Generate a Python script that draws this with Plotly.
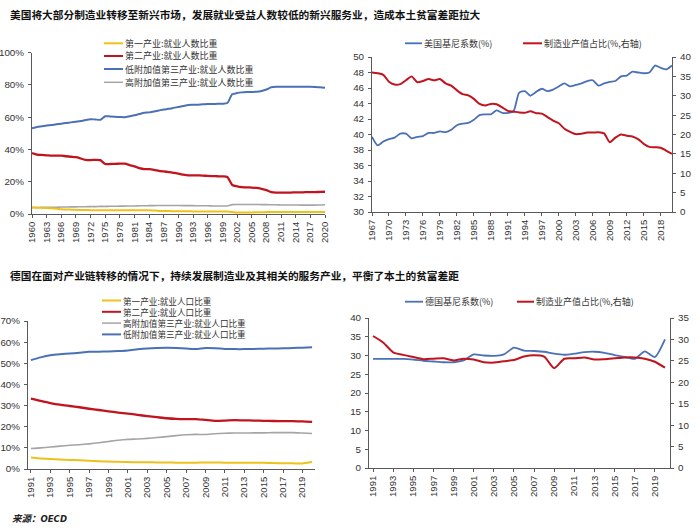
import plotly.graph_objects as go

# ---------------- DATA ----------------
us_emp_years = list(range(1960, 2021))
us_primary = [4.0, 3.9, 3.8, 3.7, 3.5, 3.3, 3.0, 2.8, 2.7, 2.6, 2.5, 2.5, 2.4, 2.4, 2.4, 2.4, 2.4, 2.4, 2.4, 2.4,
              2.4, 2.4, 2.3, 2.3, 2.3, 2.1, 1.9, 1.8, 1.8, 1.7, 1.7, 1.7, 1.7, 1.6, 1.6, 1.6, 1.6, 1.5, 1.5, 1.5,
              1.5, 1.2, 0.9, 0.9, 1.0, 1.0, 1.1, 1.1, 1.2, 1.2, 1.2, 1.2, 1.3, 1.3, 1.3, 1.3, 1.3, 1.3, 1.3, 1.3, 1.3]
us_secondary = [37.8, 36.8, 36.6, 36.4, 36.2, 36.2, 36.2, 35.8, 35.5, 35.2, 34.4, 33.5, 33.4, 33.6, 33.4, 31.0,
                31.0, 31.1, 31.2, 31.2, 30.3, 29.5, 28.4, 27.8, 27.8, 27.4, 26.8, 26.4, 26.0, 25.5, 25.0, 24.4,
                24.0, 24.0, 23.9, 23.8, 23.6, 23.5, 23.4, 23.3, 22.9, 18.0, 17.2, 16.7, 16.5, 16.4, 16.2, 15.6,
                14.8, 13.6, 13.3, 13.3, 13.3, 13.3, 13.4, 13.4, 13.5, 13.5, 13.6, 13.7, 13.8]
us_low_tertiary = [53.2, 54.0, 54.4, 54.8, 55.2, 55.6, 56.0, 56.4, 56.8, 57.2, 57.6, 58.3, 58.8, 58.6, 58.4, 60.6,
                   60.5, 60.3, 60.1, 60.0, 60.6, 61.2, 62.0, 62.8, 63.0, 63.6, 64.2, 64.8, 65.2, 65.8, 66.4, 67.0,
                   67.6, 67.7, 67.8, 68.0, 68.2, 68.2, 68.3, 68.4, 68.8, 74.2, 75.0, 75.4, 75.6, 75.7, 75.8, 76.3,
                   77.2, 78.6, 78.9, 78.9, 78.9, 78.9, 78.9, 78.9, 78.9, 78.9, 78.8, 78.6, 78.2]
us_high_tertiary = [4.0, 4.0, 4.1, 4.1, 4.2, 4.2, 4.3, 4.3, 4.4, 4.4, 4.5, 4.5, 4.6, 4.6, 4.7, 4.7, 4.8, 4.8, 4.9,
                    4.9, 5.0, 5.0, 5.1, 5.1, 5.2, 5.2, 5.3, 5.3, 5.3, 5.3, 5.3, 5.2, 5.2, 5.2, 5.1, 5.1, 5.1, 5.0,
                    5.0, 5.0, 5.0, 5.8, 5.9, 5.9, 5.9, 5.9, 5.9, 5.8, 5.8, 5.7, 5.7, 5.6, 5.6, 5.6, 5.6, 5.5, 5.5,
                    5.5, 5.5, 5.6, 5.7]

us_gini_years = list(range(1967, 2021))
us_gini = [39.7, 38.6, 39.1, 39.4, 39.6, 40.1, 40.1, 39.5, 39.7, 39.8, 40.2, 40.2, 40.4, 40.3, 40.6, 41.2, 41.4,
           41.5, 41.9, 42.5, 42.6, 42.6, 43.1, 42.8, 42.8, 43.0, 45.4, 45.6, 45.0, 45.5, 45.9, 45.6, 45.8, 46.2,
           46.6, 46.2, 46.4, 46.6, 46.9, 47.0, 46.3, 46.6, 46.8, 46.9, 47.5, 47.6, 48.1, 48.0, 47.9, 48.0, 48.9,
           48.6, 48.4, 48.9]
us_mfg_share = [36.0, 35.8, 35.4, 33.6, 32.9, 33.0, 34.0, 35.0, 33.5, 33.8, 34.3, 34.0, 34.3, 33.2, 32.6, 31.4,
                30.4, 30.1, 29.2, 27.9, 27.5, 27.9, 27.8, 27.0, 26.1, 25.9, 25.7, 25.6, 26.0, 25.5, 25.4, 24.5,
                23.6, 22.9, 21.5, 20.7, 20.1, 20.2, 20.5, 20.5, 20.6, 20.3, 18.0, 19.2, 20.0, 19.7, 19.5, 18.8,
                17.6, 16.8, 16.7, 16.6, 15.8, 15.0]

de_years = list(range(1991, 2021))
de_primary = [5.4, 5.0, 4.7, 4.5, 4.3, 4.1, 3.9, 3.7, 3.5, 3.4, 3.3, 3.2, 3.2, 3.1, 3.1, 3.0, 3.0, 3.0, 3.1, 3.1,
              3.0, 3.0, 3.0, 3.0, 2.9, 2.8, 2.7, 2.7, 2.6, 3.3]
de_secondary = [33.3, 32.2, 31.2, 30.4, 29.8, 29.2, 28.5, 27.9, 27.3, 26.7, 26.2, 25.6, 25.0, 24.5, 24.0, 23.7,
                23.6, 23.6, 23.2, 22.8, 22.9, 23.1, 23.0, 22.9, 22.8, 22.7, 22.6, 22.6, 22.5, 22.3]
de_high_tertiary = [9.7, 10.0, 10.4, 10.8, 11.2, 11.5, 11.9, 12.4, 13.0, 13.6, 14.0, 14.2, 14.5, 14.9, 15.3, 15.8,
                    16.2, 16.4, 16.3, 16.7, 16.9, 17.0, 17.0, 17.1, 17.1, 17.2, 17.2, 17.2, 17.0, 16.8]
de_low_tertiary = [51.5, 52.8, 53.8, 54.3, 54.6, 55.0, 55.4, 55.5, 55.6, 55.8, 56.1, 56.6, 57.0, 57.2, 57.3, 57.2,
                   57.0, 56.7, 57.2, 57.1, 56.8, 56.7, 56.7, 56.8, 56.9, 57.0, 57.1, 57.2, 57.4, 57.6]
de_gini = [29.1, 29.1, 29.1, 29.1, 28.9, 28.6, 28.4, 28.2, 28.2, 28.7, 30.3, 30.0, 29.9, 30.3, 32.1, 31.3, 31.2,
           31.0, 30.5, 30.2, 30.5, 30.9, 31.0, 30.7, 30.1, 29.6, 29.1, 31.1, 29.6, 34.3]
de_mfg_share = [30.8, 29.3, 27.0, 26.4, 25.9, 25.4, 25.5, 25.6, 25.1, 25.5, 25.3, 24.7, 24.6, 24.9, 25.2, 26.0,
                26.3, 26.0, 23.3, 25.5, 25.6, 25.8, 25.3, 25.4, 25.6, 25.8, 25.8, 25.5, 24.8, 23.4]

us_emp_names = ["第一产业:就业人数比重", "第二产业:就业人数比重", "低附加值第三产业:就业人数比重", "高附加值第三产业:就业人数比重"]
us_gini_names = ["美国基尼系数(%)", "制造业产值占比(%,右轴)"]
de_emp_names = ["第一产业:就业人口比重", "第二产业:就业人口比重", "高附加值第三产业:就业人口比重", "低附加值第三产业:就业人口比重"]
de_gini_names = ["德国基尼系数(%)", "制造业产值占比(%,右轴)"]

title_us = "美国将大部分制造业转移至新兴市场，发展就业受益人数较低的新兴服务业，造成本土贫富差距拉大"
title_de = "德国在面对产业链转移的情况下，持续发展制造业及其相关的服务产业，平衡了本土的贫富差距"
source_text = "来源：OECD"

us_emp_ticks = list(range(1960, 2021, 3))
us_gini_ticks = list(range(1967, 2019, 3))
de_ticks = list(range(1991, 2020, 2))

# ---------------- STYLE ----------------
W, H = 700, 531
YELLOW = "#EDC21B"
RED = "#C0141E"
BLUE = "#4A70B5"
GREY = "#A5A5A5"
AXIS = "#595959"
TXT = "#333333"
CJK = "Noto Sans CJK SC"
NUM = "Liberation Sans, Arial, sans-serif"


def px(x):
    return x / W


def py(y):
    return 1 - y / H


fig = go.Figure()


def add_line(x, y, color, width, xa, ya, name):
    fig.add_trace(go.Scatter(x=x, y=y, mode="lines", name=name, xaxis=xa, yaxis=ya,
                             line=dict(color=color, width=width, shape="spline", smoothing=0.6),
                             showlegend=False, hoverinfo="x+y+name"))


# Top-left
add_line(us_emp_years, us_high_tertiary, GREY, 1.6, "x", "y", us_emp_names[3])
add_line(us_emp_years, us_primary, YELLOW, 2.0, "x", "y", us_emp_names[0])
add_line(us_emp_years, us_secondary, RED, 2.3, "x", "y", us_emp_names[1])
add_line(us_emp_years, us_low_tertiary, BLUE, 2.0, "x", "y", us_emp_names[2])
# Top-right
add_line(us_gini_years, us_gini, BLUE, 1.8, "x2", "y2", us_gini_names[0])
add_line(us_gini_years, us_mfg_share, RED, 2.0, "x2", "y3", us_gini_names[1])
# Bottom-left
add_line(de_years, de_high_tertiary, GREY, 1.6, "x3", "y4", de_emp_names[2])
add_line(de_years, de_primary, YELLOW, 2.0, "x3", "y4", de_emp_names[0])
add_line(de_years, de_secondary, RED, 2.3, "x3", "y4", de_emp_names[1])
add_line(de_years, de_low_tertiary, BLUE, 2.0, "x3", "y4", de_emp_names[3])
# Bottom-right
add_line(de_years, de_gini, BLUE, 1.8, "x4", "y5", de_gini_names[0])
add_line(de_years, de_mfg_share, RED, 2.0, "x4", "y6", de_gini_names[1])

tickfont_y = dict(family=NUM, size=9.8, color=TXT)
tickfont_x = dict(family=NUM, size=9.5, color=TXT)


def xax(domain, rng, ticks, anchor):
    return dict(domain=domain, range=rng, anchor=anchor, tickmode="array", tickvals=ticks,
                ticktext=[str(t) for t in ticks], tickangle=-90, tickfont=tickfont_x,
                showline=True, linecolor=AXIS, linewidth=1, ticks="outside", ticklen=3,
                tickcolor=AXIS, showgrid=False, zeroline=False, fixedrange=True, automargin=False)


def yax(domain, rng, dtick, anchor, suffix="", side="left", overlaying=None):
    d = dict(domain=domain, range=rng, anchor=anchor, dtick=dtick, tick0=0, ticksuffix=suffix,
             tickfont=tickfont_y, showline=True, linecolor=AXIS, linewidth=1, ticks="outside",
             ticklen=3, tickcolor=AXIS, showgrid=False, zeroline=False, side=side, fixedrange=True,
             ticklabelstandoff=2, automargin=False)
    if overlaying:
        d["overlaying"] = overlaying
    return d


layout = dict(
    width=W, height=H, margin=dict(l=0, r=0, t=0, b=0),
    paper_bgcolor="white", plot_bgcolor="white", showlegend=False,
    xaxis=xax([px(32), px(325)], [1960, 2020], us_emp_ticks, "y"),
    yaxis=yax([py(214), py(52.7)], [0, 100], 20, "x", suffix="%"),
    xaxis2=xax([px(372), px(672)], [1967, 2020], us_gini_ticks, "y2"),
    yaxis2=yax([py(212), py(57)], [30, 50], 2, "x2"),
    yaxis3=yax([py(212), py(57)], [0, 40], 5, "x2", side="right", overlaying="y2"),
    xaxis3=xax([px(28), px(315)], [1990.7, 2020.3], de_ticks, "y4"),
    yaxis4=yax([py(469), py(321)], [0, 70], 10, "x3", suffix="%"),
    xaxis4=xax([px(369), px(670)], [1990.6, 2020.5], de_ticks, "y5"),
    yaxis5=yax([py(468), py(318)], [0, 40], 5, "x4"),
    yaxis6=yax([py(468), py(318)], [0, 35], 5, "x4", side="right", overlaying="y5"),
)
fig.update_layout(**layout)

annotations = []
shapes = []


def text(x, y, s, size, bold=False, italic=False, color="#000000", family=CJK):
    t = s
    if bold:
        t = "<b>" + t + "</b>"
    if italic:
        t = "<i>" + t + "</i>"
    annotations.append(dict(x=px(x), y=py(y), xref="paper", yref="paper", text=t, showarrow=False,
                            xanchor="left", yanchor="middle", borderpad=0,
                            font=dict(family=family, size=size, color=color)))


def legend_item(x0, x1, y, color, width, label, size=9):
    shapes.append(dict(type="line", xref="paper", yref="paper", x0=px(x0), x1=px(x1), y0=py(y), y1=py(y),
                       line=dict(color=color, width=width)))
    text(x1 + 1, y, label, size, color=TXT)


text(9, 15, title_us, 10.7, bold=True, color="#111111")
text(9, 275, title_de, 10.7, bold=True, color="#111111")
text(11, 518, source_text, 9.5, bold=True, italic=True, color="#222222",
     family="DejaVu Sans Condensed, Noto Sans CJK SC")

# legends
legend_item(104, 123, 43.3, YELLOW, 2, us_emp_names[0])
legend_item(104, 123, 56, RED, 2, us_emp_names[1])
legend_item(104, 123, 69, BLUE, 2, us_emp_names[2])
legend_item(104, 123, 82.3, GREY, 1.5, us_emp_names[3])

legend_item(405, 422, 43.3, BLUE, 1.8, us_gini_names[0])
legend_item(523, 542, 43.3, RED, 2, us_gini_names[1])

legend_item(102, 121, 300.5, YELLOW, 2, de_emp_names[0], 8.6)
legend_item(102, 121, 311.8, RED, 2, de_emp_names[1], 8.6)
legend_item(102, 121, 323.1, GREY, 1.5, de_emp_names[2], 8.6)
legend_item(102, 121, 334.4, BLUE, 2, de_emp_names[3], 8.6)

legend_item(405, 423, 301.7, BLUE, 1.8, de_gini_names[0])
legend_item(517, 534, 301.7, RED, 2, de_gini_names[1])

fig.update_layout(annotations=annotations, shapes=shapes)
# remove the browser's default 8px page margin so the figure sits at the window's origin
fig.write_html("out.html", config={"displayModeBar": False},
               post_script="document.body.style.margin='0';document.body.style.overflow='hidden';")
